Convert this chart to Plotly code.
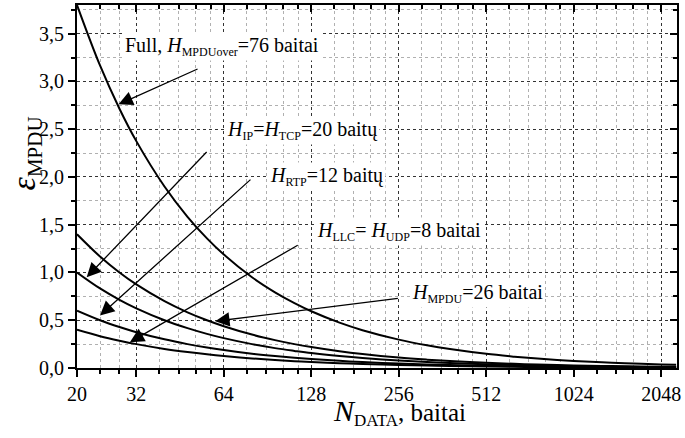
import math
import plotly.graph_objects as go

# Payload length N_DATA (bytes) and relative header overhead for each header set
n_data = [20, 24, 28, 32, 40, 48, 56, 64, 80, 96, 112, 128, 160, 192, 256,
          320, 384, 512, 640, 768, 1024, 1280, 1536, 2048, 2304]
eps_full = [3.80, 3.167, 2.714, 2.375, 1.90, 1.583, 1.357, 1.1875, 0.95, 0.792, 0.679,
            0.594, 0.475, 0.396, 0.297, 0.2375, 0.198, 0.148, 0.119, 0.099, 0.074,
            0.059, 0.049, 0.037, 0.033]
eps_mpdu = [1.40, 1.167, 1.00, 0.875, 0.70, 0.583, 0.50, 0.4375, 0.35, 0.292, 0.25,
            0.219, 0.175, 0.146, 0.109, 0.0875, 0.073, 0.0547, 0.0438, 0.0365, 0.0273,
            0.0219, 0.0182, 0.0137, 0.0122]
eps_ip_tcp = [1.00, 0.833, 0.714, 0.625, 0.50, 0.417, 0.357, 0.3125, 0.25, 0.208, 0.179,
              0.156, 0.125, 0.104, 0.078, 0.0625, 0.052, 0.039, 0.031, 0.026, 0.0195,
              0.0156, 0.013, 0.0098, 0.0087]
eps_rtp = [0.60, 0.50, 0.429, 0.375, 0.30, 0.25, 0.214, 0.1875, 0.15, 0.125, 0.107,
           0.094, 0.075, 0.0625, 0.047, 0.0375, 0.031, 0.023, 0.019, 0.0156, 0.0117,
           0.0094, 0.0078, 0.0059, 0.0052]
eps_llc_udp = [0.40, 0.333, 0.286, 0.25, 0.20, 0.167, 0.143, 0.125, 0.10, 0.083, 0.071,
               0.0625, 0.05, 0.042, 0.031, 0.025, 0.021, 0.0156, 0.0125, 0.0104, 0.0078,
               0.0063, 0.0052, 0.0039, 0.0035]

x_ticks = [20, 32, 64, 128, 256, 512, 1024, 2048]
y_ticks = [0.0, 0.5, 1.0, 1.5, 2.0, 2.5, 3.0, 3.5]
y_ticklabels = ["0,0", "0,5", "1,0", "1,5", "2,0", "2,5", "3,0", "3,5"]

SERIF = "Liberation Serif"
X_RANGE = [math.log10(20), math.log10(2320)]
Y_RANGE = [0, 3.8]

# minor ticks: 24, 28 then 1.2/1.4/1.6/1.8 steps inside each octave
minor_x = [24, 28] + [b * f for b in [32, 64, 128, 256, 512, 1024]
                      for f in (1.2, 1.4, 1.6, 1.8)]
minor_x = [v for v in minor_x if v < 2320]
minor_y = [0.25 + 0.5 * i for i in range(8)]

fig = go.Figure()
for ys in [eps_full, eps_mpdu, eps_ip_tcp, eps_rtp, eps_llc_udp]:
    fig.add_trace(go.Scatter(x=n_data, y=ys, mode="lines",
                             line=dict(color="black", width=2, shape="spline"),
                             showlegend=False, hoverinfo="skip"))
# transparent copy of one curve on the mirrored top/right axes
fig.add_trace(go.Scatter(x=n_data, y=eps_llc_udp, xaxis="x2", yaxis="y2",
                         mode="lines", line=dict(width=0.1, color="rgba(0,0,0,0)"),
                         showlegend=False, hoverinfo="skip"))

axis_common = dict(showline=True, linewidth=2, linecolor="black", zeroline=False,
                   tickcolor="black", tickwidth=2,
                   tickfont=dict(family=SERIF, size=20, color="black"))

fig.update_layout(
    width=685, height=438,
    margin=dict(l=77, r=8, t=5, b=70),
    paper_bgcolor="white", plot_bgcolor="white",
    xaxis=dict(type="log", range=X_RANGE, tickvals=x_ticks,
               ticktext=[str(v) for v in x_ticks], ticks="outside", ticklen=7,
               showgrid=True, gridcolor="#333333", griddash="dot", gridwidth=1,
               minor=dict(tickvals=minor_x, ticks="outside", ticklen=4, tickwidth=1.5,
                          tickcolor="black", showgrid=True, gridcolor="#b0b0b0",
                          griddash="dot", gridwidth=1),
               **axis_common),
    yaxis=dict(range=Y_RANGE, tickvals=y_ticks, ticktext=y_ticklabels,
               ticks="outside", ticklen=7,
               showgrid=True, gridcolor="#333333", griddash="dot", gridwidth=1,
               minor=dict(tickvals=minor_y, ticks="outside", ticklen=4, tickwidth=1.5,
                          tickcolor="black", showgrid=True, gridcolor="#b0b0b0",
                          griddash="dot", gridwidth=1),
               **axis_common),
    xaxis2=dict(type="log", matches="x", overlaying="x", side="top", anchor="y",
                tickvals=x_ticks, showticklabels=False,
                ticks="inside", ticklen=7, showgrid=False,
                minor=dict(tickvals=minor_x, ticks="inside", ticklen=4, tickwidth=1.5,
                           tickcolor="black", showgrid=False),
                **axis_common),
    yaxis2=dict(matches="y", overlaying="y", side="right", anchor="x",
                tickvals=y_ticks, showticklabels=False,
                ticks="inside", ticklen=7, showgrid=False,
                minor=dict(tickvals=minor_y, ticks="inside", ticklen=4, tickwidth=1.5,
                           tickcolor="black", showgrid=False),
                **axis_common),
)

SUB = '<sub><span style="font-size:12px">{}</span></sub>'

# curve labels (left edge and vertical centre in plot-area fractions)
labels = [
    ("Full, <i>H</i>" + SUB.format("MPDUover") + "=76 baitai", 0.077, 0.885),
    ("<i>H</i>" + SUB.format("IP") + "=<i>H</i>" + SUB.format("TCP") + "=20 baitų", 0.246, 0.655),
    ("<i>H</i>" + SUB.format("RTP") + "=12 baitų", 0.318, 0.527),
    ("<i>H</i>" + SUB.format("LLC") + "= <i>H</i>" + SUB.format("UDP") + "=8 baitai", 0.397, 0.375),
    ("<i>H</i>" + SUB.format("MPDU") + "=26 baitai", 0.555, 0.204),
]
for text, xp, yp in labels:
    fig.add_annotation(text=text, xref="paper", yref="paper", x=xp, y=yp,
                       xanchor="left", yanchor="middle", showarrow=False,
                       bgcolor="white", borderpad=1,
                       font=dict(family=SERIF, size=20, color="black"))

# arrows: (tip N, tip value) <- (tail N, tail value)
arrows = [
    ((27.8, 2.76), (52.6, 3.137)),
    ((21.6, 0.95), (56.5, 2.277)),
    ((n_data[1], 0.55), (80.0, 1.986)),
    ((30.4, 0.27), (116.3, 1.294)),
    ((59.8, 0.49), (257.2, 0.730)),
]
for (tx, ty), (sx, sy) in arrows:
    fig.add_annotation(text="", x=math.log10(tx), y=ty, ax=math.log10(sx), ay=sy,
                       xref="x", yref="y", axref="x", ayref="y",
                       showarrow=True, arrowhead=2, arrowsize=2.2, arrowwidth=1.3,
                       arrowcolor="black", standoff=0, startstandoff=0)

# axis titles
fig.add_annotation(text='<i><span style="font-size:30px">N</span></i>'
                        '<sub><span style="font-size:17px">DATA</span></sub>, baitai',
                   xref="paper", yref="paper", x=0.538, y=-0.122,
                   xanchor="center", yanchor="middle", showarrow=False,
                   font=dict(family=SERIF, size=25, color="black"))
fig.add_annotation(text='<i>ε</i><sub><span style="font-size:21px">MPDU</span></sub>',
                   xref="paper", yref="paper", x=-0.085, y=0.591,
                   xanchor="center", yanchor="middle", showarrow=False, textangle=-90,
                   font=dict(family=SERIF, size=34, color="black"))

fig.write_html("out.html")
